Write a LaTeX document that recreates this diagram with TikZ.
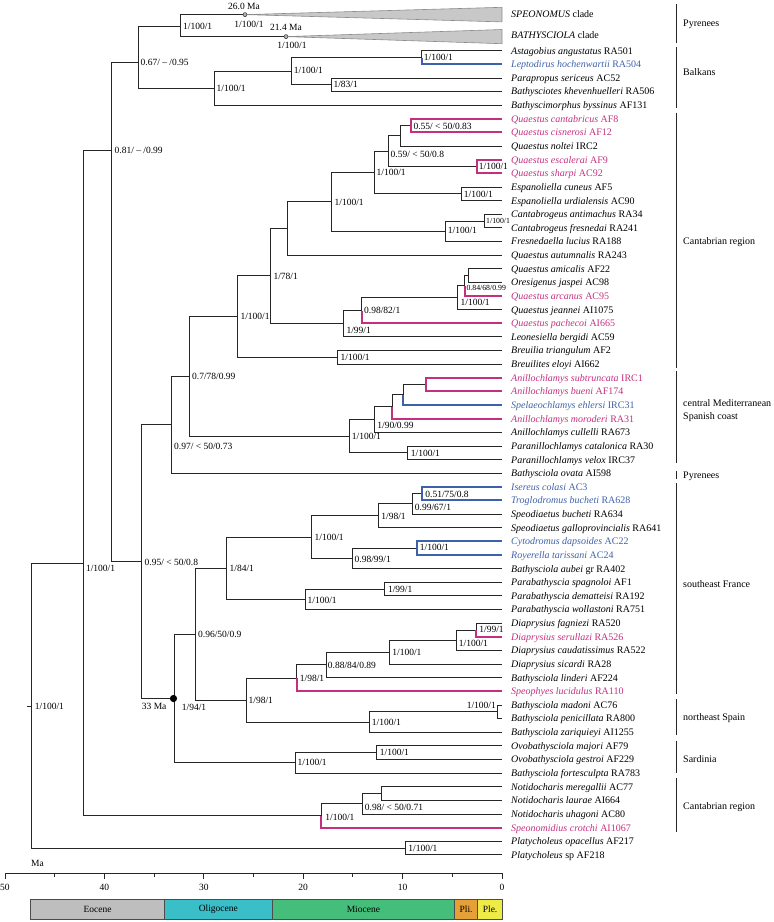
\documentclass[tikz,border=0pt]{standalone}
\usepackage{fontspec}
\setmainfont{Liberation Serif}
\definecolor{mag}{RGB}{196,48,128}
\definecolor{blu}{RGB}{62,98,170}
\definecolor{eoc}{RGB}{190,190,190}
\definecolor{oli}{RGB}{58,190,200}
\definecolor{mio}{RGB}{68,190,122}
\definecolor{pli}{RGB}{230,160,56}
\definecolor{ple}{RGB}{238,234,70}
\definecolor{cladefill}{RGB}{200,200,200}
\definecolor{cladeedge}{RGB}{140,140,140}
\newcommand\mysup[4]{\node[sup] (#1) at (#2,{#3+3.2}) {#4};}
\newcommand\mysupS[4]{\node[supS] (#1) at (#2,{#3+2.6}) {#4};}
\begin{document}
\begin{tikzpicture}[x=1pt,y=-1pt,
  br/.style={line width=0.9pt,draw=black!85},
  mg/.style={line width=2pt,draw=mag},
  bl/.style={line width=2pt,draw=blu},
  sup/.style={font=\fontsize{9.5}{10}\selectfont,inner sep=0pt,anchor=base west},
  supS/.style={font=\fontsize{7.8}{8}\selectfont,inner sep=0pt,anchor=base west},
  tax/.style={font=\fontsize{10}{11}\selectfont,inner sep=0pt,anchor=base west},
  reg/.style={font=\fontsize{10}{11}\selectfont,inner sep=0pt,anchor=base west},
  regline/.style={line width=0.9pt,draw=black!85},
  era/.style={draw=black!70,line width=0.6pt},
  eralab/.style={font=\fontsize{9.5}{10}\selectfont,inner sep=0pt}]
\useasboundingbox (0,0) rectangle (774,922);

% ---------- leaves ----------
\foreach \i/\col/\txt in {
3/black/{\textit{Astagobius angustatus} RA501},
4/blu/{\textit{Leptodirus hochenwartii} RA504},
5/black/{\textit{Parapropus sericeus} AC52},
6/black/{\textit{Bathysciotes khevenhuelleri} RA506},
7/black/{\textit{Bathyscimorphus byssinus} AF131},
8/mag/{\textit{Quaestus cantabricus} AF8},
9/mag/{\textit{Quaestus cisnerosi} AF12},
10/black/{\textit{Quaestus noltei} IRC2},
11/mag/{\textit{Quaestus escalerai} AF9},
12/mag/{\textit{Quaestus sharpi} AC92},
13/black/{\textit{Espanoliella cuneus} AF5},
14/black/{\textit{Espanoliella urdialensis} AC90},
15/black/{\textit{Cantabrogeus antimachus} RA34},
16/black/{\textit{Cantabrogeus fresnedai} RA241},
17/black/{\textit{Fresnedaella lucius} RA188},
18/black/{\textit{Quaestus autumnalis} RA243},
19/black/{\textit{Quaestus amicalis} AF22},
20/black/{\textit{Oresigenus jaspei} AC98},
21/mag/{\textit{Quaestus arcanus} AC95},
22/black/{\textit{Quaestus jeannei} AI1075},
23/mag/{\textit{Quaestus pachecoi} AI665},
24/black/{\textit{Leonesiella bergidi} AC59},
25/black/{\textit{Breuilia triangulum} AF2},
26/black/{\textit{Breuilites eloyi} AI662},
27/mag/{\textit{Anillochlamys subtruncata} IRC1},
28/mag/{\textit{Anillochlamys bueni} AF174},
29/blu/{\textit{Spelaeochlamys ehlersi} IRC31},
30/mag/{\textit{Anillochlamys moroderi} RA31},
31/black/{\textit{Anillochlamys cullelli} RA673},
32/black/{\textit{Paranillochlamys catalonica} RA30},
33/black/{\textit{Paranillochlamys velox} IRC37},
34/black/{\textit{Bathysciola ovata} AI598},
35/blu/{\textit{Isereus colasi} AC3},
36/blu/{\textit{Troglodromus bucheti} RA628},
37/black/{\textit{Speodiaetus bucheti} RA634},
38/black/{\textit{Speodiaetus galloprovincialis} RA641},
39/blu/{\textit{Cytodromus dapsoides} AC22},
40/blu/{\textit{Royerella tarissani} AC24},
41/black/{\textit{Bathysciola aubei} gr RA402},
42/black/{\textit{Parabathyscia spagnoloi} AF1},
43/black/{\textit{Parabathyscia dematteisi} RA192},
44/black/{\textit{Parabathyscia wollastoni} RA751},
45/black/{\textit{Diaprysius fagniezi} RA520},
46/mag/{\textit{Diaprysius serullazi} RA526},
47/black/{\textit{Diaprysius caudatissimus} RA522},
48/black/{\textit{Diaprysius sicardi} RA28},
49/black/{\textit{Bathysciola linderi} AF224},
50/mag/{\textit{Speophyes lucidulus} RA110},
51/black/{\textit{Bathysciola madoni} AC76},
52/black/{\textit{Bathysciola penicillata} RA800},
53/black/{\textit{Bathysciola zariquieyi} AI1255},
54/black/{\textit{Ovobathysciola majori} AF79},
55/black/{\textit{Ovobathysciola gestroi} AF229},
56/black/{\textit{Bathysciola fortesculpta} RA783},
57/black/{\textit{Notidocharis meregallii} AC77},
58/black/{\textit{Notidocharis laurae} AI664},
59/black/{\textit{Notidocharis uhagoni} AC80},
60/mag/{\textit{Speonomidius crotchi} AI1067},
61/black/{\textit{Platycholeus opacellus} AF217},
62/black/{\textit{Platycholeus} sp AF218}}{
  \pgfmathsetmacro\yy{50.7+(\i-3)*13.63}
  \coordinate (c\i) at (502,\yy);
  \node[tax,text=\col] (t\i) at (511,{\yy+3.4}) {\txt};
}
\node[tax] (t1) at (511,17.7) {\textit{SPEONOMUS} clade};
\node[tax] (t2) at (511,38.1) {\textit{BATHYSCIOLA} clade};

% ---------- internal nodes ----------
\coordinate (rootstub) at (26.7,706);
\coordinate (root) at (31.7,706);
\coordinate (B) at (83.7,563.9);
\coordinate (C) at (111,150);
\coordinate (n067) at (138.3,62.3);
\coordinate (nSB) at (180.3,26);
\coordinate (dS) at (245,14.6);
\coordinate (dB) at (286,36.6);
\coordinate (nBalk) at (214.3,88.2);
\coordinate (n291) at (291.7,71.2);
\coordinate (nLep) at (421.7,57.5);
\coordinate (n183) at (331,84.8);
\coordinate (n095) at (141.7,561.6);
\coordinate (D) at (171.7,424.75);
\coordinate (E) at (189,376.3);
\coordinate (nCan) at (237.7,316.4);
\coordinate (n178) at (270.7,275.7);
\coordinate (N5) at (287.3,228.3);
\coordinate (N4) at (331.7,201.6);
\coordinate (N3) at (374,172.5);
\coordinate (N2) at (388.7,151.2);
\coordinate (N1) at (400.5,135.9);
\coordinate (n055) at (411,125.7);
\coordinate (nEsc) at (476.7,166.5);
\coordinate (nEsp) at (461,193.8);
\coordinate (nFres) at (445,231.3);
\coordinate (nCant) at (484.3,221.05);
\coordinate (n199) at (343.3,323.7);
\coordinate (n0982) at (361.7,310.5);
\coordinate (nJea) at (457.7,297.7);
\coordinate (n084) at (464.5,285.8);
\coordinate (nAJ) at (468.5,275.6);
\coordinate (nBre) at (337.7,357.35);
\coordinate (nAn) at (349,436.3);
\coordinate (n190) at (374,419.8);
\coordinate (n392) at (392.3,406.85);
\coordinate (n403) at (403.3,394.85);
\coordinate (nSbu) at (425.7,384.6);
\coordinate (nPan) at (407.7,452.8);
\coordinate (n33) at (174.5,698.5);
\coordinate (n096) at (195,634.1);
\coordinate (n184) at (226.7,568.2);
\coordinate (n1100a) at (311.7,537.1);
\coordinate (n198) at (378.3,515.8);
\coordinate (n099) at (412,503.9);
\coordinate (n051) at (422.3,493.65);
\coordinate (n098) at (352,558.4);
\coordinate (nCyt) at (416.7,548.2);
\coordinate (nPar) at (305,599.3);
\coordinate (nPar99) at (384.3,589.1);
\coordinate (n198b) at (246,700);
\coordinate (nSp) at (296.7,678.1);
\coordinate (n088) at (326,664.9);
\coordinate (nDia3) at (389.3,652.1);
\coordinate (nDia2) at (456,640.2);
\coordinate (nDia1) at (476,629.95);
\coordinate (nNES) at (369,721.95);
\coordinate (nMad) at (497.7,711.7);
\coordinate (nSar) at (295.7,762.85);
\coordinate (nOvo) at (376.7,752.6);
\coordinate (nNot) at (321,815.7);
\coordinate (n098c) at (362.7,803.75);
\coordinate (nMer) at (381.7,793.5);
\coordinate (nPla) at (405,848);

% ---------- black branches ----------
\foreach \p/\c in {root/B,root/nPla,B/C,B/nNot,C/n067,C/n095,n067/nSB,n067/nBalk,
  nSB/dS,nSB/dB,nBalk/n291,nBalk/c7,n291/nLep,n291/n183,nLep/c3,n183/c5,n183/c6,
  n095/D,n095/n33,D/E,D/c34,E/nCan,E/nAn,nCan/n178,nCan/nBre,n178/N5,n178/n199,
  N5/N4,N5/c18,N4/N3,N4/nFres,N3/N2,N3/nEsp,N2/N1,N2/nEsc,N1/n055,N1/c10,
  nEsp/c13,nEsp/c14,nFres/nCant,nFres/c17,nCant/c15,nCant/c16,
  n199/n0982,n199/c24,n0982/nJea,nJea/n084,nJea/c22,n084/nAJ,nAJ/c19,nAJ/c20,
  nBre/c25,nBre/c26,nAn/n190,nAn/nPan,n190/n392,n190/c31,n392/n403,n403/nSbu,
  nPan/c32,nPan/c33,n33/n096,n33/nSar,n096/n184,n096/n198b,n184/n1100a,n184/nPar,
  n1100a/n198,n1100a/n098,n198/n099,n198/c38,n099/n051,n099/c37,n098/nCyt,n098/c41,
  nPar/nPar99,nPar/c44,nPar99/c42,nPar99/c43,n198b/nSp,n198b/nNES,nSp/n088,
  n088/nDia3,n088/c49,nDia3/nDia2,nDia3/c48,nDia2/nDia1,nDia2/c47,nDia1/c45,
  nNES/nMad,nNES/c53,nMad/c51,nMad/c52,nSar/nOvo,nSar/c56,nOvo/c54,nOvo/c55,
  nNot/n098c,n098c/nMer,n098c/c59,nMer/c57,nMer/c58,nPla/c61,nPla/c62}
  {\draw[br] (\p) |- (\c);}
\draw[br] (rootstub) -- (root);

% ---------- coloured branches ----------
\foreach \p/\c in {n055/c8,n055/c9,nEsc/c11,nEsc/c12,n084/c21,n0982/c23,
  nSbu/c27,nSbu/c28,n392/c30,nDia1/c46,nSp/c50,nNot/c60}
  {\draw[mg] (\p) |- (\c);}
\foreach \p/\c in {nLep/c4,n403/c29,n051/c35,n051/c36,nCyt/c39,nCyt/c40}
  {\draw[bl] (\p) |- (\c);}

% ---------- collapsed clades ----------
\filldraw[fill=cladefill,draw=cladeedge,line width=0.6pt] (dS) -- (502,7.3) -- (502,21.9) -- cycle;
\filldraw[fill=cladefill,draw=cladeedge,line width=0.6pt] (dB) -- (502,29.5) -- (502,43.7) -- cycle;
\filldraw[fill=gray!60,draw=black!80,line width=0.5pt] (dS) circle[radius=2];
\filldraw[fill=gray!60,draw=black!80,line width=0.5pt] (dB) circle[radius=2];
\fill[black] (173.5,698.5) circle[radius=3.6];

% ---------- support labels ----------
\node[sup,anchor=base] (a26) at (244,9) {26.0 Ma};
\node[sup,anchor=base] (a26s) at (249,27) {1/100/1};
\node[sup,anchor=base] (a21) at (286,30) {21.4 Ma};
\node[sup,anchor=base] (a21s) at (292,48.5) {1/100/1};
\mysup{s1}{183}{26.7}{1/100/1}
\mysup{s2}{140.5}{62.3}{0.67/ – /0.95}
\mysup{s3}{216.5}{88.7}{1/100/1}
\mysup{s4}{293.7}{70.3}{1/100/1}
\mysup{s5}{333.3}{84.3}{1/83/1}
\mysup{s6}{423.7}{57.3}{1/100/1}
\mysup{s7}{413.3}{126}{0.55/ < 50/0.83}
\mysup{s8}{390.5}{154.5}{0.59/ < 50/0.8}
\mysup{s9}{478.7}{166.6}{1/100/1}
\mysup{s10}{376.5}{172.7}{1/100/1}
\mysup{s11}{463.7}{193.8}{1/100/1}
\mysup{s12}{334.5}{202.3}{1/100/1}
\mysupS{s13}{486}{221.2}{1/100/1}
\mysup{s14}{447.7}{230.7}{1/100/1}
\mysup{s15}{114.5}{150}{0.81/ – /0.99}
\mysup{s16}{273.3}{276}{1/78/1}
\mysup{s17}{240.3}{316.5}{1/100/1}
\mysupS{s18}{466.3}{288.3}{0.84/68/0.99}
\mysup{s19}{460.5}{302.7}{1/100/1}
\mysup{s20}{364}{310.7}{0.98/82/1}
\mysup{s21}{346.3}{330}{1/99/1}
\mysup{s22}{340.5}{357.3}{1/100/1}
\mysup{s23}{192}{376.3}{0.7/78/0.99}
\mysup{s24}{174}{445.8}{0.97/ < 50/0.73}
\mysup{s25}{351.7}{436.6}{1/100/1}
\mysup{s26}{377.2}{425.3}{1/90/0.99}
\mysup{s27}{410.7}{452.8}{1/100/1}
\mysup{s28}{425.2}{494.7}{0.51/75/0.8}
\mysup{s29}{414.7}{507.3}{0.99/67/1}
\mysup{s30}{381.2}{515.8}{1/98/1}
\mysup{s31}{314.5}{536.9}{1/100/1}
\mysup{s32}{419.7}{547.5}{1/100/1}
\mysup{s33}{354.5}{559.2}{0.98/99/1}
\mysup{s34}{229.5}{568.2}{1/84/1}
\mysup{s35}{387.8}{589.1}{1/99/1}
\mysup{s36}{307.5}{600}{1/100/1}
\mysup{s37}{144.5}{561.8}{0.95/ < 50/0.8}
\mysup{s38}{85.8}{568.3}{1/100/1}
\mysup{s39}{198}{634.1}{0.96/50/0.9}
\mysup{s40}{479.2}{628.8}{1/99/1}
\mysup{s41}{458.7}{643.5}{1/100/1}
\mysup{s42}{392.2}{652.3}{1/100/1}
\mysup{s43}{327.7}{664.8}{0.88/84/0.89}
\mysup{s44}{299.7}{678.3}{1/98/1}
\mysup{s45}{248.5}{700.2}{1/98/1}
\mysup{s46}{141.7}{706.3}{33 Ma}
\mysup{s47}{181.7}{707}{1/94/1}
\node[sup,anchor=base east] (s48) at (496,708.2) {1/100/1};
\mysup{s49}{371.7}{722.3}{1/100/1}
\mysup{s50}{297.5}{762.6}{1/100/1}
\mysup{s51}{379.7}{752.4}{1/100/1}
\mysup{s52}{325.2}{817}{1/100/1}
\mysup{s53}{364.7}{807}{0.98/ < 50/0.71}
\mysup{s54}{34.7}{706.2}{1/100/1}
\mysup{s55}{408.2}{848.2}{1/100/1}

% ---------- regions ----------
\foreach \ya/\yb in {4/42.7,46.7/108.3,112.7/368.3,370.7/462.7,470.7/479.3,483.3/694,699.3/735,740.7/773.3,778.3/832.3}
  {\draw[regline] (676.7,\ya) -- (676.7,\yb);}
\node[reg] (r1) at (683,26.7) {Pyrenees};
\node[reg] (r2) at (683,75.7) {Balkans};
\node[reg] (r3) at (683,244.1) {Cantabrian region};
\node[reg] (r4) at (683,406.7) {central Mediterranean};
\node[reg] (r5) at (683,419.1) {Spanish coast};
\node[reg] (r6) at (683,478.4) {Pyrenees};
\node[reg] (r7) at (683,587.4) {southeast France};
\node[reg] (r8) at (683,720.1) {northeast Spain};
\node[reg] (r9) at (683,762.1) {Sardinia};
\node[reg] (r10) at (683,809.1) {Cantabrian region};

% ---------- time axis ----------
\node[sup] (ma) at (31,866) {Ma};
\draw[br] (5,873) -- (502,873);
\foreach \t in {0,10,20,30,40,50}{
  \draw[br] ({502-9.94*\t},873) -- ({502-9.94*\t},878.5);
  \node[sup,anchor=base] (tk\t) at ({502-9.94*\t},890.5) {\t};
}
\foreach \t in {5,15,25,35,45}{
  \draw[br] ({502-9.94*\t},873) -- ({502-9.94*\t},876.5);
}
\filldraw[era,fill=eoc] (30.7,899) rectangle (164.4,919);
\filldraw[era,fill=oli] (164.4,899) rectangle (272.3,919);
\filldraw[era,fill=mio] (272.3,899) rectangle (454.5,919);
\filldraw[era,fill=pli] (454.5,899) rectangle (477.7,919);
\filldraw[era,fill=ple] (477.7,899) rectangle (502.5,919);
\node[eralab] (e1) at (97.5,909) {Eocene};
\node[eralab] (e2) at (218.3,909) {Oligocene};
\node[eralab] (e3) at (363.4,909) {Miocene};
\node[eralab] (e4) at (466.1,909) {Pli.};
\node[eralab] (e5) at (490.1,909) {Ple.};
\end{tikzpicture}
\end{document}
